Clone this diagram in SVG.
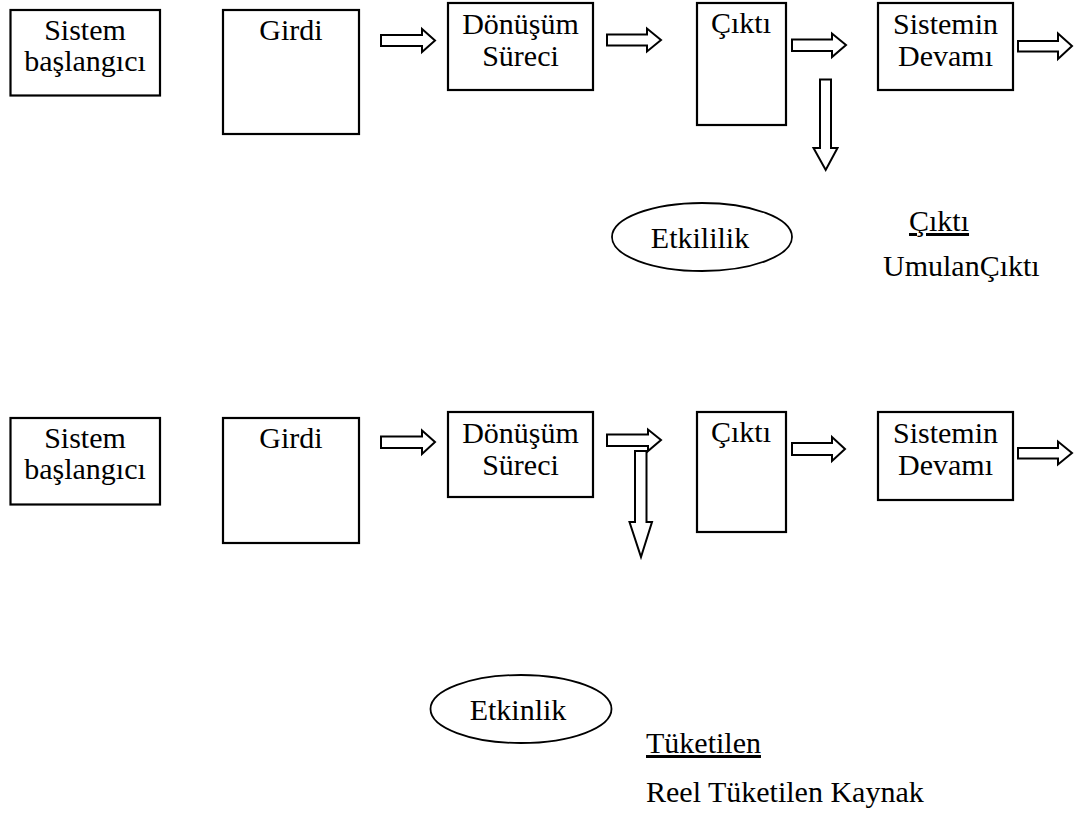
<svg xmlns="http://www.w3.org/2000/svg" width="1076" height="813" viewBox="0 0 1076 813">
<style>
.box{fill:#fff;stroke:#000;stroke-width:2.2}
.ell{fill:#fff;stroke:#000;stroke-width:1.8}
.arr{fill:#fff;stroke:#000;stroke-width:2;stroke-linejoin:miter}
text{font-family:"Liberation Serif","Times New Roman",serif;font-size:30px;fill:#000}
.c{text-anchor:middle}
.u{text-decoration:underline}
</style>
<rect width="1076" height="813" fill="#fff"/>
<g id="top-row">
<g id="t-sistem-baslangici"><rect class="box" x="10.5" y="10" width="149.5" height="85.5"/><text class="c" x="85" y="40">Sistem</text><text class="c" x="85" y="71">başlangıcı</text></g>
<g id="t-girdi"><rect class="box" x="223" y="10" width="136" height="124"/><text class="c" x="291" y="40">Girdi</text></g>
<g id="t-donusum"><rect class="box" x="448" y="3" width="145" height="87"/><text class="c" x="520.5" y="34">Dönüşüm</text><text class="c" x="520.5" y="66">Süreci</text></g>
<g id="t-cikti"><rect class="box" x="697" y="3" width="89" height="122"/><text class="c" x="741" y="33">Çıktı</text></g>
<g id="t-sistemin-devami"><rect class="box" x="878" y="3" width="135" height="87"/><text class="c" x="945.5" y="34">Sistemin</text><text class="c" x="945.5" y="66">Devamı</text></g>
<g id="t-etkililik"><ellipse class="ell" cx="702" cy="237" rx="90" ry="34"/><text class="c" x="700" y="248">Etkililik</text></g>
<g id="t-labels"><text class="u" x="909" y="231">Çıktı</text><text x="883" y="276">UmulanÇıktı</text></g>
</g>
<g id="bottom-row">
<g id="b-sistem-baslangici"><rect class="box" x="10.5" y="418" width="149.5" height="86.5"/><text class="c" x="85" y="448">Sistem</text><text class="c" x="85" y="479">başlangıcı</text></g>
<g id="b-girdi"><rect class="box" x="223" y="418" width="136" height="125"/><text class="c" x="291" y="448">Girdi</text></g>
<g id="b-donusum"><rect class="box" x="448" y="412" width="145" height="85"/><text class="c" x="520.5" y="443">Dönüşüm</text><text class="c" x="520.5" y="475">Süreci</text></g>
<g id="b-cikti"><rect class="box" x="697" y="412" width="89" height="120"/><text class="c" x="741" y="442">Çıktı</text></g>
<g id="b-sistemin-devami"><rect class="box" x="878" y="412" width="135" height="88"/><text class="c" x="945.5" y="443">Sistemin</text><text class="c" x="945.5" y="475">Devamı</text></g>
<g id="b-etkinlik"><ellipse class="ell" cx="521" cy="709" rx="90.5" ry="34"/><text class="c" x="518" y="720">Etkinlik</text></g>
<g id="b-labels"><text class="u" x="646" y="753">Tüketilen</text><text x="646" y="802">Reel Tüketilen Kaynak</text></g>
</g>
<g id="connectors">
<path class="arr" d="M381,35 H422 V29 L435,40.5 L422,52 V46 H381 Z"/>
<path class="arr" d="M607,34.5 H647 V28.5 L661,40 L647,51.5 V45.5 H607 Z"/>
<path class="arr" d="M792,39.5 H832 V33.5 L846,45 L832,57 V51 H792 Z"/>
<path class="arr" d="M1018,41 H1058 V33.5 L1072,46 L1058,59 V51.5 H1018 Z"/>
<path class="arr" d="M820,79.5 H831 V148 H837.5 L825.7,170 L813.5,148 H820 Z"/>
<path class="arr" d="M381,436.5 H422 V430.5 L435,442 L422,454 V448 H381 Z"/>
<path class="arr" d="M607,434.5 H648 V429.5 L661,440 L648,451 V446 H607 Z"/>
<path class="arr" d="M635,451 H646.5 V522 H652 L641,557 L629.5,522 H635 Z"/>
<path class="arr" d="M792,443 H832 V437 L845,449 L832,461 V455 H792 Z"/>
<path class="arr" d="M1018,448 H1058 V441.5 L1072,453 L1058,464.5 V458.5 H1018 Z"/>
</g>
</svg>
